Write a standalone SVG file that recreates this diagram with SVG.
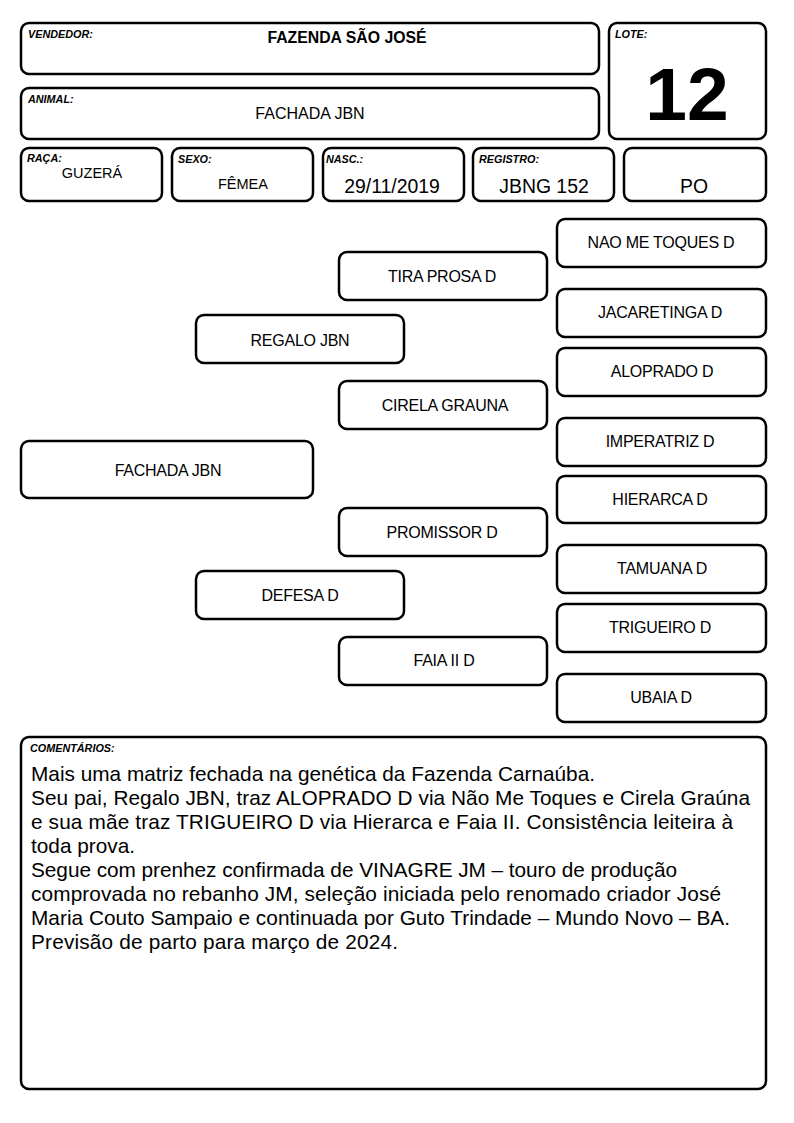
<svg xmlns="http://www.w3.org/2000/svg" width="794" height="1123" viewBox="0 0 794 1123">
<style>
.b{fill:#fff;stroke:#000;stroke-width:2.5}
.l{font-family:"Liberation Sans",Arial,sans-serif;font-size:10.8px;font-weight:bold;font-style:italic}
.v{font-family:"Liberation Sans",Arial,sans-serif;font-size:16px;text-anchor:middle}
.n{font-family:"Liberation Sans",Arial,sans-serif;font-size:16px;text-anchor:middle;letter-spacing:-0.25px}
.c{font-family:"Liberation Sans",Arial,sans-serif;font-size:20.8px}
</style>
<rect width="794" height="1123" fill="#fff"/>
<g id="vendedor"><rect class="b" x="21" y="23" width="578" height="51" rx="8"/><text class="l" x="28" y="38">VENDEDOR:</text><text class="v" x="347" y="43" style="font-weight:bold;font-size:15.8px">FAZENDA SÃO JOSÉ</text></g>
<g id="animal"><rect class="b" x="21" y="88" width="578" height="51" rx="8"/><text class="l" x="28" y="103">ANIMAL:</text><text class="v" x="310" y="119">FACHADA JBN</text></g>
<g id="lote"><rect class="b" x="609" y="23" width="157" height="116" rx="8"/><text class="l" x="615" y="38">LOTE:</text><text x="687" y="120" font-family="'Liberation Sans',Arial,sans-serif" font-size="75" font-weight="bold" text-anchor="middle">12</text></g>
<g id="raca"><rect class="b" x="21" y="148" width="141" height="53" rx="8"/><text class="l" x="27" y="162">RAÇA:</text><text class="v" x="92" y="178" style="font-size:14.5px">GUZERÁ</text></g>
<g id="sexo"><rect class="b" x="172" y="148" width="141" height="53" rx="8"/><text class="l" x="178" y="163">SEXO:</text><text class="v" x="243" y="189" style="font-size:14.5px">FÊMEA</text></g>
<g id="nasc"><rect class="b" x="323" y="148" width="141" height="53" rx="8"/><text class="l" x="326" y="163">NASC.:</text><text class="v" x="392" y="193" style="font-size:19.4px">29/11/2019</text></g>
<g id="registro"><rect class="b" x="473" y="148" width="141" height="53" rx="8"/><text class="l" x="479" y="163">REGISTRO:</text><text class="v" x="544" y="193" style="font-size:19.4px">JBNG 152</text></g>
<g id="po"><rect class="b" x="624" y="148" width="142" height="53" rx="8"/><text class="v" x="694" y="193" style="font-size:19.4px">PO</text></g>
<g id="connectors"></g>
<g id="fachada"><rect class="b" x="21" y="441" width="292" height="57" rx="8"/><text class="n" x="168" y="476">FACHADA JBN</text></g>
<g id="regalo"><rect class="b" x="196" y="315" width="208" height="48" rx="8"/><text class="n" x="300" y="346">REGALO JBN</text></g>
<g id="defesa"><rect class="b" x="196" y="571" width="208" height="48" rx="8"/><text class="n" x="300" y="601">DEFESA D</text></g>
<g id="tiraprosa"><rect class="b" x="339" y="252" width="208" height="48" rx="8"/><text class="n" x="442" y="282">TIRA PROSA D</text></g>
<g id="cirela"><rect class="b" x="339" y="381" width="208" height="48" rx="8"/><text class="n" x="445" y="411">CIRELA GRAUNA</text></g>
<g id="promissor"><rect class="b" x="339" y="508" width="208" height="48" rx="8"/><text class="n" x="442" y="538">PROMISSOR D</text></g>
<g id="faia"><rect class="b" x="339" y="637" width="208" height="48" rx="8"/><text class="n" x="444" y="666">FAIA II D</text></g>
<g id="naometoques"><rect class="b" x="557" y="219" width="209" height="48" rx="8"/><text class="n" x="661" y="248">NAO ME TOQUES D</text></g>
<g id="jacaretinga"><rect class="b" x="557" y="289" width="209" height="48" rx="8"/><text class="n" x="660" y="318">JACARETINGA D</text></g>
<g id="aloprado"><rect class="b" x="557" y="348" width="209" height="48" rx="8"/><text class="n" x="662" y="377">ALOPRADO D</text></g>
<g id="imperatriz"><rect class="b" x="557" y="418" width="209" height="48" rx="8"/><text class="n" x="660" y="447">IMPERATRIZ D</text></g>
<g id="hierarca"><rect class="b" x="557" y="476" width="209" height="47" rx="8"/><text class="n" x="660" y="505">HIERARCA D</text></g>
<g id="tamuana"><rect class="b" x="557" y="545" width="209" height="48" rx="8"/><text class="n" x="662" y="574">TAMUANA D</text></g>
<g id="trigueiro"><rect class="b" x="557" y="604" width="209" height="48" rx="8"/><text class="n" x="660" y="633">TRIGUEIRO D</text></g>
<g id="ubaia"><rect class="b" x="557" y="674" width="209" height="48" rx="8"/><text class="n" x="661" y="703">UBAIA D</text></g>
<g id="comentarios"><rect class="b" x="21" y="737" width="745" height="352" rx="8"/><text class="l" x="30" y="752">COMENTÁRIOS:</text>
<text class="c" x="31" y="781" textLength="564" lengthAdjust="spacing">Mais uma matriz fechada na genética da Fazenda Carnaúba.</text>
<text class="c" x="31" y="805" textLength="719" lengthAdjust="spacing">Seu pai, Regalo JBN, traz ALOPRADO D via Não Me Toques e Cirela Graúna</text>
<text class="c" x="31" y="829" textLength="702" lengthAdjust="spacing">e sua mãe traz TRIGUEIRO D via Hierarca e Faia II. Consistência leiteira à</text>
<text class="c" x="31" y="853" textLength="104" lengthAdjust="spacing">toda prova.</text>
<text class="c" x="31" y="877" textLength="646" lengthAdjust="spacing">Segue com prenhez confirmada de VINAGRE JM – touro de produção</text>
<text class="c" x="31" y="901" textLength="690" lengthAdjust="spacing">comprovada no rebanho JM, seleção iniciada pelo renomado criador José</text>
<text class="c" x="31" y="925" textLength="699" lengthAdjust="spacing">Maria Couto Sampaio e continuada por Guto Trindade – Mundo Novo – BA.</text>
<text class="c" x="31" y="949" textLength="367" lengthAdjust="spacing">Previsão de parto para março de 2024.</text>
</g>
</svg>
